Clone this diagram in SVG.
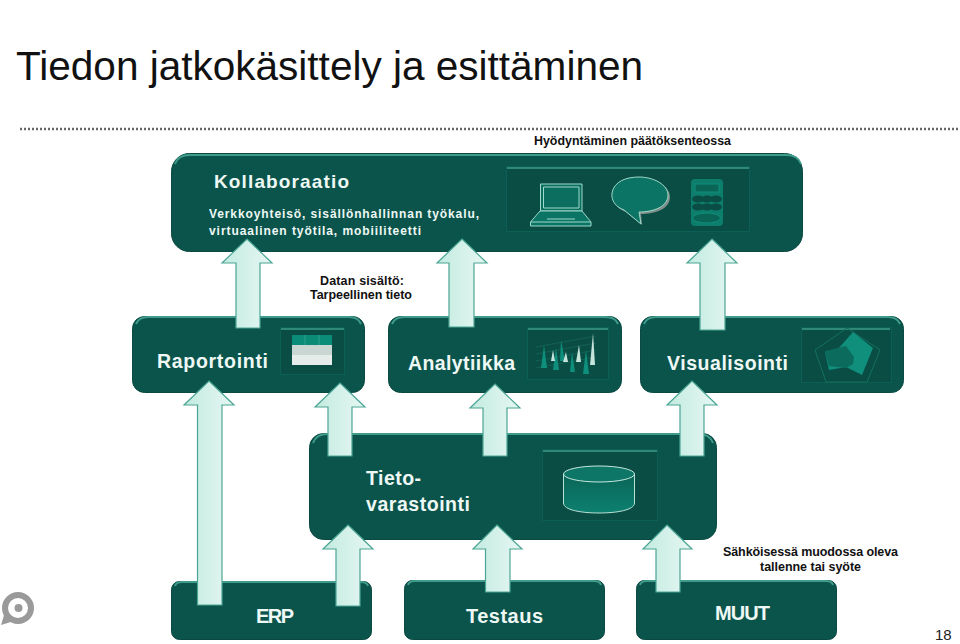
<svg xmlns="http://www.w3.org/2000/svg" width="960" height="644" viewBox="0 0 960 644">
<style>
text{font-family:"Liberation Sans",Arial,sans-serif}
.w{fill:#eef8f5;font-weight:bold}
.k{fill:#111;font-weight:bold}
.box{fill:#0b544b;stroke:#0a4a42;stroke-width:1}
.hl{fill:none;stroke:#3f9c8c;stroke-width:2}
.in{fill:#0a4d45;stroke:#0b5f54;stroke-width:1}
.inh{fill:none;stroke:#2f8878;stroke-width:2}
.ar{fill:url(#ag);stroke:#4ba594;stroke-width:1.2}
</style>
<defs>
<linearGradient id="ag" x1="0" x2="1" y1="0" y2="0"><stop offset="0" stop-color="#c2ebe0"/><stop offset="1" stop-color="#e6f7f2"/></linearGradient>
<linearGradient id="cy" x1="0" x2="0" y1="0" y2="1"><stop offset="0" stop-color="#0a6557"/><stop offset="1" stop-color="#0d8070"/></linearGradient>
</defs>
<rect width="960" height="644" fill="#fff"/>
<g id="title"><text x="16" y="80" font-size="40" fill="#111" textLength="627" lengthAdjust="spacingAndGlyphs">Tiedon jatkokäsittely ja esittäminen</text></g>
<line x1="20" y1="129" x2="960" y2="129" stroke="#666" stroke-width="2.500" stroke-dasharray="2 2"/>
<text class="k" x="534" y="145" font-size="13" textLength="197" lengthAdjust="spacingAndGlyphs">Hyödyntäminen päätöksenteossa</text>

<g id="kollaboraatio">
<rect class="box" x="171.500" y="153.500" width="631" height="98" rx="18"/>
<path class="hl" d="M175 164Q178 155 190 155H786Q798 155 801 164"/>
<text class="w" x="214" y="188" font-size="19" textLength="135">Kollaboraatio</text>
<text class="w" x="209" y="217.500" font-size="12" textLength="270">Verkkoyhteisö, sisällönhallinnan työkalu,</text>
<text class="w" x="209" y="235" font-size="12" textLength="212">virtuaalinen työtila, mobiiliteetti</text>
<rect class="in" x="506.500" y="166.500" width="243" height="65"/>
<line class="inh" x1="507" y1="168" x2="749" y2="168"/>
<path d="M540.500 184H582V211H540.500Z" fill="#0b6e5f" stroke="#9ed8ca"/>
<path d="M543.500 187H579V208H543.500Z" fill="#0b6e5f" stroke="#9ed8ca"/>
<path d="M540 211H582L591 222V226H530.500V222Z" fill="#0b7464" stroke="#9ed8ca"/>
<path d="M547 219H575M531 222H591" stroke="#9ed8ca" fill="none"/>
<path d="M613 194C615 182 628 178 640 178C655 178 670 186 670 197C670 209 655 214 641 214L642 225L626 212C618 209 612 203 613 194Z" fill="#7f8f8b"/>
<path d="M612 193C614 181 627 177 639 177C654 177 668 185 668 195C668 207 653 212 639 212L641 224L624 210C616 207 611 201 612 193Z" fill="#0b7464" stroke="#9ed8ca"/>
<rect x="691" y="179" width="32" height="47" rx="4" fill="#0d7d6c"/>
<rect x="695" y="184" width="24" height="8" fill="#0a6557" stroke="#0f8f7c"/>
<g fill="#0a4d45"><ellipse cx="698" cy="199" rx="6" ry="3.500"/><ellipse cx="707" cy="199" rx="6" ry="3.500"/><ellipse cx="716" cy="199" rx="6" ry="3.500"/><ellipse cx="698" cy="207" rx="6" ry="3.500"/><ellipse cx="707" cy="207" rx="6" ry="3.500"/><ellipse cx="716" cy="207" rx="6" ry="3.500"/></g>
<ellipse cx="706.500" cy="218" rx="14" ry="5" fill="#0a6557" stroke="#0f8f7c"/>
</g>

<g id="raportointi">
<rect class="box" x="132.500" y="316.500" width="232" height="76" rx="12"/>
<path class="hl" d="M136 324Q139 317 148 317H349Q358 317 361 324"/>
<text class="w" x="157" y="368" font-size="19.500" textLength="111">Raportointi</text>
<rect class="in" x="280.500" y="327.500" width="64" height="47"/>
<line class="inh" x1="281" y1="329" x2="344" y2="329"/>
<rect x="292" y="335" width="40" height="10" fill="#0b8c79"/>
<path d="M305 335V345M319 335V345" stroke="#2aa08e"/>
<rect x="292" y="345" width="40" height="10" fill="#c9d6d2"/>
<rect x="292" y="355" width="40" height="10" fill="#e6ecea"/>
</g>

<g id="analytiikka">
<rect class="box" x="388.500" y="316.500" width="233" height="76" rx="12"/>
<path class="hl" d="M392 324Q395 317 404 317H606Q615 317 618 324"/>
<text class="w" x="408" y="370" font-size="19.500" textLength="107">Analytiikka</text>
<rect class="in" x="527.500" y="327.500" width="81" height="52"/>
<line class="inh" x1="528" y1="329" x2="608" y2="329"/>
<path d="M536 347L596 336M536 354L596 343M536 361L596 350M536 368L596 357" stroke="#17695c" fill="none" stroke-width=".7"/>
<g fill="#0e8f7c"><path d="M541 368L544 345L547 368Z"/><path d="M553 370L556 348L559 370Z"/><path d="M560 361L561 340L565 361Z"/><path d="M570 372L572 352L575 372Z"/><path d="M583 374L586 350L589 374Z"/></g>
<g fill="#c7e4dc"><path d="M551 361L553 350L555 361Z"/><path d="M563 362L566 352L568 362Z"/><path d="M576 362L579 345L581 362Z"/><path d="M590 365L593 333L595 365Z"/></g>
</g>

<g id="visualisointi">
<rect class="box" x="640.500" y="316.500" width="263" height="76" rx="12"/>
<path class="hl" d="M644 324Q647 317 656 317H888Q897 317 900 324"/>
<text class="w" x="667" y="370" font-size="19.500" textLength="121">Visualisointi</text>
<rect class="in" x="801.500" y="327.500" width="90" height="55"/>
<line class="inh" x1="802" y1="329" x2="890" y2="329"/>
<path d="M847 328L880 350L867 382H826L815 350Z" fill="none" stroke="#13705f"/>
<path d="M838 349L853 332L873 348L862 375L846 367L829 370L825 352Z" fill="#0f8f7c"/>
<path d="M825 351L846 346L854 357L853 364L846 368L829 366Z" fill="#0b6b5d"/>
</g>

<g id="tietovarastointi">
<rect class="box" x="309.500" y="433.500" width="407" height="106" rx="14"/>
<path class="hl" d="M313 443Q316 434 328 434H698Q710 434 713 443"/>
<text class="w" x="366" y="485" font-size="19.500" textLength="55">Tieto-</text>
<text class="w" x="366" y="511" font-size="19.500" textLength="104">varastointi</text>
<rect class="in" x="542.500" y="449.500" width="115" height="71"/>
<line class="inh" x1="543" y1="451" x2="657" y2="451"/>
<path d="M563.500 474V503C563.500 510 581 513 599 513C617 513 634.500 510 634.500 503V474Z" fill="url(#cy)" stroke="#b9e2d7"/>
<ellipse cx="599" cy="474" rx="35.500" ry="8" fill="#0d7666" stroke="#c7e9df"/>
</g>

<g id="erp">
<rect class="box" x="171.500" y="581.500" width="200" height="58" rx="8"/>
<path class="hl" d="M175 586Q176 582 182 582H361Q367 582 368 586"/>
<text class="w" x="256" y="623" font-size="20" textLength="38">ERP</text>
</g>
<g id="testaus">
<rect class="box" x="404.500" y="580.500" width="200" height="59" rx="8"/>
<path class="hl" d="M408 585Q409 581 415 581H594Q600 581 601 585"/>
<text class="w" x="466" y="623" font-size="20" textLength="77">Testaus</text>
</g>
<g id="muut">
<rect class="box" x="636.500" y="580.500" width="200" height="59" rx="8"/>
<path class="hl" d="M640 585Q641 581 647 581H826Q832 581 833 585"/>
<text class="w" x="715" y="620" font-size="20" textLength="55">MUUT</text>
</g>

<g id="connectors">
<path class="ar" d="M247 239L272 263H260V328H236V263H222Z"/>
<path class="ar" d="M462 239L487 263H474V327H449V263H437Z"/>
<path class="ar" d="M712 239L737 263H725V330H700V263H687Z"/>
<path class="ar" d="M209 381L234 405H222V605H197.500V405H184Z"/>
<path class="ar" d="M340 383L365 407H352V456H328V407H315Z"/>
<path class="ar" d="M495 384L520 408H507V456H483V408H470Z"/>
<path class="ar" d="M692 381L717 405H704V456H680V405H667Z"/>
<path class="ar" d="M348 525L373 549H360V606H336V549H323Z"/>
<path class="ar" d="M497 525L522 549H510V592H485.500V549H473Z"/>
<path class="ar" d="M667 525L692 549H680V592H656V549H643Z"/>
</g>

<text class="k" x="320" y="285" font-size="12.500" textLength="84">Datan sisältö:</text>
<text class="k" x="310" y="299" font-size="12.500" textLength="102">Tarpeellinen tieto</text>
<text class="k" x="723" y="556" font-size="12.500" textLength="175">Sähköisessä muodossa oleva</text>
<text class="k" x="760" y="571" font-size="12.500" textLength="101">tallenne tai syöte</text>
<text x="935" y="640" font-size="15" fill="#222">18</text>

<g id="logo">
<circle cx="18" cy="608" r="13" fill="none" stroke="#9a9a9a" stroke-width="6"/>
<circle cx="18.500" cy="608" r="4" fill="#9a9a9a"/>
<path d="M5 612L1 625L14 621Z" fill="#9a9a9a"/>
</g>
</svg>
